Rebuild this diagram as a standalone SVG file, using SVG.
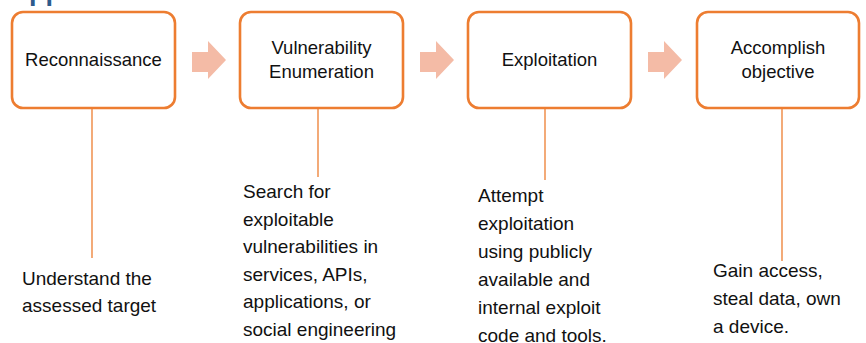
<svg xmlns="http://www.w3.org/2000/svg" width="866" height="343" viewBox="0 0 866 343">
<style>
.box{fill:#fff;stroke:#ED7D31;stroke-width:2.6}
.arr{fill:#F4BBA6}
.lbl{font-family:"Liberation Sans",Arial,sans-serif;font-size:18.5px;fill:#111;text-anchor:middle}
.desc{font-family:"Liberation Sans",Arial,sans-serif;font-size:19px;fill:#111}
.conn{stroke:#ED7D31;stroke-width:1.3;fill:none}
.title{font-family:"Liberation Sans",Arial,sans-serif;font-size:27px;font-weight:bold;fill:#2E5B8C}
</style>
<rect width="866" height="343" fill="#fff"/>
<text class="title" x="29" y="0">pproach</text>
<g id="connectors">
<line class="conn" x1="92" y1="108" x2="92" y2="258"/>
<line class="conn" x1="318" y1="108" x2="318" y2="177"/>
<line class="conn" x1="545" y1="108" x2="545" y2="180"/>
<line class="conn" x1="782" y1="108" x2="782" y2="261"/>
<polygon class="arr" points="192,52 208,52 208,41 226,60 208,79 208,72 192,72"/>
<polygon class="arr" points="420,52 436,52 436,41 454,60 436,79 436,72 420,72"/>
<polygon class="arr" points="648,52 664,52 664,41 682,60 664,79 664,72 648,72"/>
</g>
<g id="recon">
<rect class="box" x="12" y="12" width="163" height="96" rx="11"/>
<text class="lbl" x="93.5" y="66">Reconnaissance</text>
</g>
<g id="vuln">
<rect class="box" x="240" y="12" width="163" height="96" rx="11"/>
<text class="lbl" x="321.5" y="54">Vulnerability</text>
<text class="lbl" x="321.5" y="78">Enumeration</text>
</g>
<g id="exploit">
<rect class="box" x="468" y="12" width="163" height="96" rx="11"/>
<text class="lbl" x="549.5" y="66">Exploitation</text>
</g>
<g id="objective">
<rect class="box" x="697" y="12" width="162" height="96" rx="11"/>
<text class="lbl" x="778" y="54">Accomplish</text>
<text class="lbl" x="778" y="78">objective</text>
</g>
<g id="recon-desc">
<text class="desc" x="22" y="285">Understand the</text>
<text class="desc" x="22" y="312">assessed target</text>
</g>
<g id="vuln-desc">
<text class="desc" x="243" y="198">Search for</text>
<text class="desc" x="243" y="225.6">exploitable</text>
<text class="desc" x="243" y="253.2">vulnerabilities in</text>
<text class="desc" x="243" y="280.8">services, APIs,</text>
<text class="desc" x="243" y="308.4">applications, or</text>
<text class="desc" x="243" y="336">social engineering</text>
</g>
<g id="exploit-desc">
<text class="desc" x="478" y="202">Attempt</text>
<text class="desc" x="478" y="230">exploitation</text>
<text class="desc" x="478" y="258">using publicly</text>
<text class="desc" x="478" y="286">available and</text>
<text class="desc" x="478" y="314">internal exploit</text>
<text class="desc" x="478" y="342">code and tools.</text>
</g>
<g id="objective-desc">
<text class="desc" x="713" y="277">Gain access,</text>
<text class="desc" x="713" y="305">steal data, own</text>
<text class="desc" x="713" y="333">a device.</text>
</g>
</svg>
